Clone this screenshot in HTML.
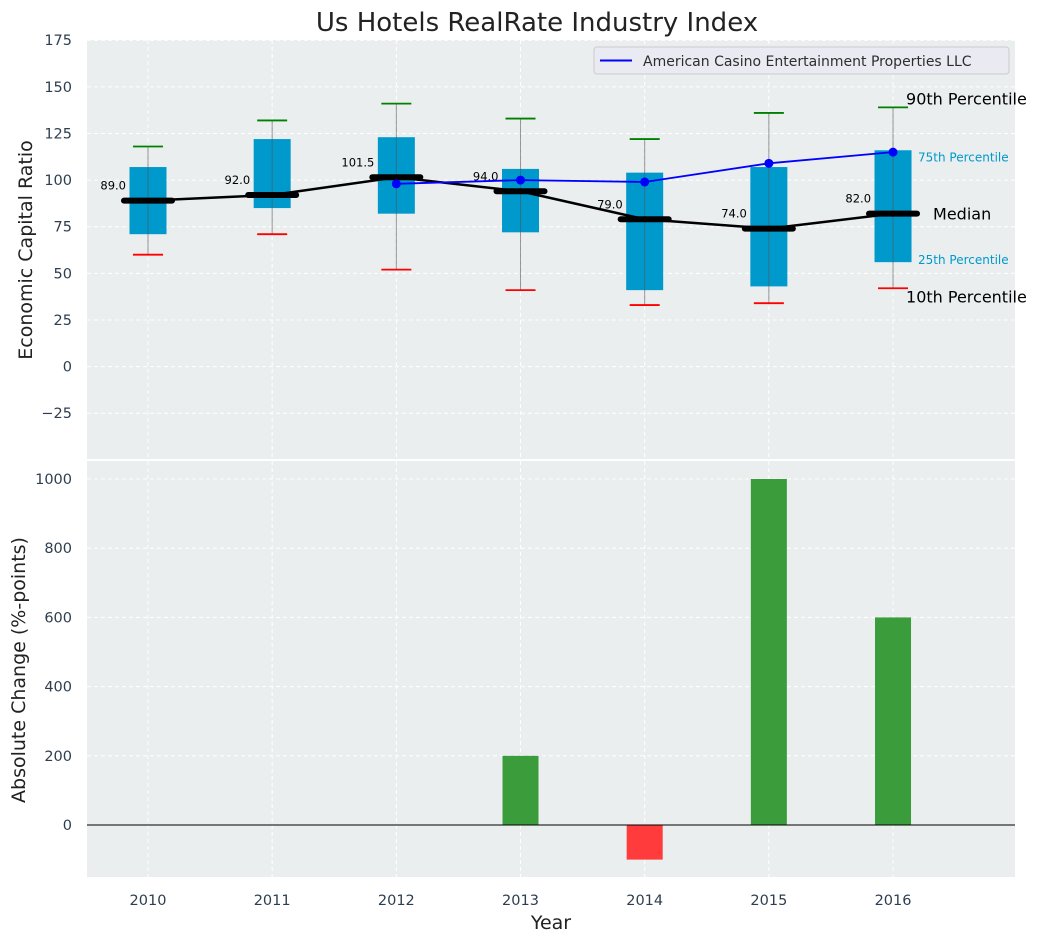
<!DOCTYPE html>
<html><head><meta charset="utf-8"><style>
body{margin:0;background:#fff;font-family:"Liberation Sans","DejaVu Sans",sans-serif}
svg text{font-family:"DejaVu Sans","Liberation Sans",sans-serif}
</style></head><body>
<svg id="c" width="1041" height="942" xmlns="http://www.w3.org/2000/svg"></svg>
<script>
const years=['2010','2011','2012','2013','2014','2015','2016'];
const p10=[60,71,52,41,33,34,42];
const q1=[71,85,82,72,41,43,56];
const med=[89,92,101.5,94,79,74,82];
const q3=[107,122,123,106,104,107,116];
const p90=[118,132,141,133,122,136,139];
const companyYears=[2,3,4,5,6];
const companyVals=[98,100,99,109,115];
const changes=[0,0,0,200,-100,1000,600];
const topTicks=[-25,0,25,50,75,100,125,150,175];
const botTicks=[0,200,400,600,800,1000];

const svg=document.getElementById('c');const NS='http://www.w3.org/2000/svg';
function el(t,a,txt){const e=document.createElementNS(NS,t);for(const k in a)e.setAttribute(k,a[k]);if(txt!=null)e.textContent=txt;svg.appendChild(e);return e;}
const L=87,R=1015;
const x=i=>148+i*124.17;
const yT=v=>366.6-v*1.865;
const yB=v=>825-v*0.346;

let e=el('rect',{x:L,y:40,width:R-L,height:419,fill:'#eaeeee'});

e=el('rect',{x:L,y:461,width:R-L,height:416,fill:'#eaeeee'});

years.forEach((y,i)=>{
 el('line',{x1:x(i),x2:x(i),y1:40,y2:459,stroke:'#fff','stroke-dasharray':'4,3','stroke-width':1});
 el('line',{x1:x(i),x2:x(i),y1:461,y2:877,stroke:'#fff','stroke-dasharray':'4,3','stroke-width':1});
 e=el('text',{x:x(i),y:905,'text-anchor':'middle','font-size':14.5,fill:'#2e3e50'},y);
 
});
topTicks.forEach(v=>{
 el('line',{x1:L,x2:R,y1:yT(v),y2:yT(v),stroke:'#fff','stroke-dasharray':'4,3'});
 e=el('text',{x:72,y:yT(v)+5,'text-anchor':'end','font-size':14.5,fill:'#2e3e50'},v<0?'\u2212'+(-v):v);
 
});
botTicks.forEach(v=>{
 el('line',{x1:L,x2:R,y1:yB(v),y2:yB(v),stroke:'#fff','stroke-dasharray':'4,3'});
 e=el('text',{x:72,y:yB(v)+5,'text-anchor':'end','font-size':14.5,fill:'#2e3e50'},v);
 
});
years.forEach((y,i)=>{
 const cx=x(i);
 e=el('rect',{x:cx-18.5,y:yT(q3[i]),width:37,height:yT(q1[i])-yT(q3[i]),fill:'#0099cc'});
 
 el('line',{x1:cx,x2:cx,y1:yT(p10[i]),y2:yT(p90[i]),stroke:'#555','stroke-opacity':0.6,'stroke-width':1});
 e=el('line',{x1:cx-15,x2:cx+15,y1:yT(p90[i]),y2:yT(p90[i]),stroke:'green','stroke-width':1.8});
 
 e=el('line',{x1:cx-15,x2:cx+15,y1:yT(p10[i]),y2:yT(p10[i]),stroke:'red','stroke-width':1.8});
 
});
e=el('polyline',{points:med.map((v,i)=>x(i)+','+yT(v)).join(' '),fill:'none',stroke:'#000','stroke-width':2.5});

years.forEach((y,i)=>{
 e=el('line',{x1:x(i)-24,x2:x(i)+24,y1:yT(med[i]),y2:yT(med[i]),stroke:'#000','stroke-width':6,'stroke-linecap':'round'});
 
 e=el('text',{x:x(i)-22,y:yT(med[i])-11,'text-anchor':'end','font-size':11.5,fill:'#000'},med[i].toFixed(1));
 
});
e=el('polyline',{points:companyYears.map((c,k)=>x(c)+','+yT(companyVals[k])).join(' '),fill:'none',stroke:'blue','stroke-width':1.8});

companyYears.forEach((c,k)=>{
 e=el('circle',{cx:x(c),cy:yT(companyVals[k]),r:4.5,fill:'blue'});
 
});
const ax=x(6);
[['90th Percentile',ax+13,yT(p90[6])-3,16,'#000'],['75th Percentile',ax+25,yT(q3[6])+11,12,'#0099cc'],
 ['Median',ax+40,yT(med[6])+6,16,'#000'],['25th Percentile',ax+25,yT(q1[6])+2,12,'#0099cc'],
 ['10th Percentile',ax+13,yT(p10[6])+14,16,'#000']].forEach(a=>{
 e=el('text',{x:a[1],y:a[2],'font-size':a[3],fill:a[4]},a[0]);
 
});
e=el('rect',{x:594,y:47,width:415,height:27,rx:3,fill:'#eaeaf2',stroke:'#ccc'});

el('line',{x1:600,x2:632,y1:60.5,y2:60.5,stroke:'blue','stroke-width':2});
e=el('text',{x:643,y:66,'font-size':14,fill:'#2e2e2e'},'American Casino Entertainment Properties LLC');

years.forEach((y,i)=>{
 const v=changes[i];if(v===0)return;
 e=el('rect',{x:x(i)-18,y:Math.min(yB(v),yB(0)),width:36,height:Math.abs(yB(v)-yB(0)),fill:v>0?'#3a9c3a':'#ff3b3b'});
 
});
el('line',{x1:L,x2:R,y1:yB(0),y2:yB(0),stroke:'#000','stroke-width':1});
e=el('text',{x:537,y:31,'text-anchor':'middle','font-size':26,fill:'#222'},'Us Hotels RealRate Industry Index');

e=el('text',{x:32,y:250,'text-anchor':'middle','font-size':19,fill:'#222',transform:'rotate(-90 32 250)'},'Economic Capital Ratio');

e=el('text',{x:25,y:670,'text-anchor':'middle','font-size':19,fill:'#222',transform:'rotate(-90 25 670)'},'Absolute Change (%-points)');

e=el('text',{x:551,y:929,'text-anchor':'middle','font-size':19,fill:'#222'},'Year');

</script>
</body></html>
